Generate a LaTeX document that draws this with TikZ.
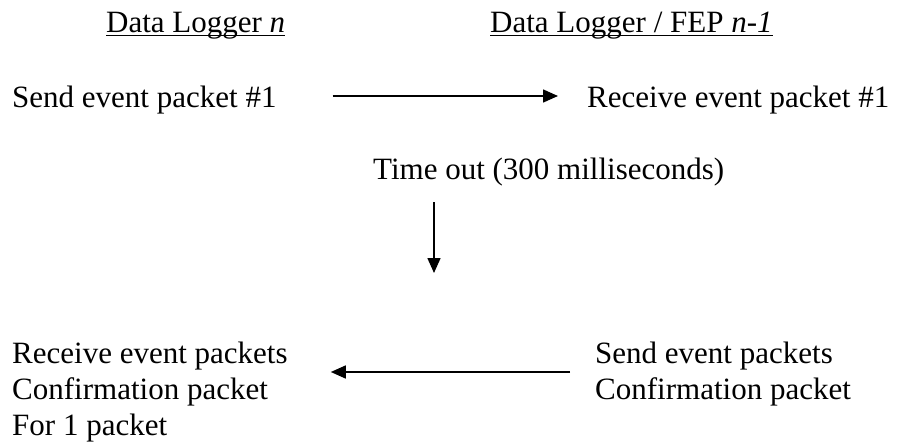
\documentclass[tikz,border=0pt]{standalone}
\usepackage{fontspec}
\setmainfont{Liberation Serif}
\usetikzlibrary{arrows.meta}
\begin{document}
\begin{tikzpicture}[x=1pt,y=-1pt,
  txt/.style={inner sep=0pt, anchor=base west, font=\fontsize{31}{36}\selectfont},
  arr/.style={line width=1.6pt, -{Triangle[length=15pt,width=13pt]}},
  ul/.style={line width=1.8pt}]
\useasboundingbox (0,0) rectangle (898,442);
% headers
\node[txt] (h1) at (106,32) {Data Logger \textit{n}};
\node[txt] (h2) at (490,32) {Data Logger / FEP \textit{n-1}};
\draw[ul] ([yshift=-3.5pt]h1.base west) -- ([yshift=-3.5pt]h1.base east);
\draw[ul] ([yshift=-3.5pt]h2.base west) -- ([yshift=-3.5pt]h2.base east);
% first exchange
\node[txt] (s1) at (12,107) {Send event packet \#1};
\node[txt] (r1) at (587,107) {Receive event packet \#1};
\draw[arr] ([xshift=56pt,yshift=11pt]s1.base east) -- ([xshift=-29pt,yshift=11pt]r1.base west);
% time out
\node[txt] (to) at (373,179) {Time out (300 milliseconds)};
\coordinate (vend) at (434,273);
\draw[arr] ([xshift=61pt,yshift=-23pt]to.base west) -- (vend);
% second exchange
\node[txt] (rp) at (12,363) {\begin{tabular}[t]{@{}l@{}}Receive event packets\\Confirmation packet\\For 1 packet\end{tabular}};
\node[txt] (sp) at (595,363) {\begin{tabular}[t]{@{}l@{}}Send event packets\\Confirmation packet\end{tabular}};
\draw[arr] ([xshift=-25pt,yshift=-9pt]sp.base west) -- ([xshift=43pt,yshift=-9pt]rp.base east);
\end{tikzpicture}
\end{document}
